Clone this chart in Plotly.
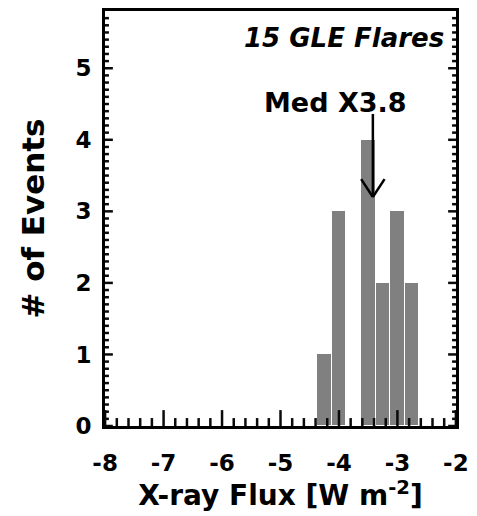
import numpy as np
import plotly.graph_objects as go

# Histogram of log10 peak X-ray flux for the GLE flares
bin_centers = [-4.25, -4.0, -3.5, -3.25, -3.0, -2.75]
counts = [1, 3, 4, 2, 3, 2]
bin_width = 0.25

median_flux = 3.8e-4          # X3.8 class
median_label = "Med X3.8"
title_text = "15 GLE Flares"

x_tickvals = [-8, -7, -6, -5, -4, -3, -2]
x_ticktext = ["-8", "-7", "-6", "-5", "-4", "-3", "-2"]
y_tickvals = [0, 1, 2, 3, 4, 5]
y_ticktext = ["0", "1", "2", "3", "4", "5"]
x_minor_step = 0.2
y_minor_step = 0.1
x_range = [-8.002, -1.998]
y_range = [0, 5.8]

W, H = 477, 516
M = dict(l=105, r=15, t=8, b=90)
FONT = "DejaVu Sans, Liberation Sans, Arial, sans-serif"
INK = "rgb(10,10,10)"

# pixel -> data unit conversions for tick lengths
px_x = (x_range[1] - x_range[0]) / (W - M["l"] - M["r"])
px_y = (y_range[1] - y_range[0]) / (H - M["t"] - M["b"])

fig = go.Figure()
fig.add_trace(go.Bar(
    x=bin_centers, y=counts, width=bin_width,
    marker=dict(color="#808080", line=dict(color="white", width=1)),
    showlegend=False,
))

# inward tick marks: bottom axis, and left + right axes
tx, ty = [], []
for v in np.round(np.arange(x_tickvals[0], x_tickvals[-1] + 1e-9, x_minor_step), 3):
    L = (16 if np.isclose(v, np.round(v)) else 8) * px_y
    tx += [v, v, None]
    ty += [y_range[0], y_range[0] + L, None]
for v in np.round(np.arange(y_range[0], y_range[1] - 1e-9, y_minor_step), 3):
    L = (8 if np.isclose(v, np.round(v)) else 4) * px_x
    tx += [x_range[0], x_range[0] + L, None, x_range[1], x_range[1] - L, None]
    ty += [v, v, None, v, v, None]
fig.add_trace(go.Scatter(x=tx, y=ty, mode="lines", line=dict(color=INK, width=2.5),
                         hoverinfo="skip", showlegend=False, cliponaxis=False))

# median arrow with an open V head
xm = np.log10(median_flux)
y_top, y_tip = 4.36, 3.2
head_dx, head_dy = 0.2, 0.25
arrow_line = dict(color="black", width=2.5)
fig.add_shape(type="line", x0=xm, x1=xm, y0=y_top, y1=y_tip, line=arrow_line)
fig.add_shape(type="line", x0=xm - head_dx, x1=xm, y0=y_tip + head_dy, y1=y_tip, line=arrow_line)
fig.add_shape(type="line", x0=xm + head_dx, x1=xm, y0=y_tip + head_dy, y1=y_tip, line=arrow_line)

fig.add_annotation(x=xm - 0.64, y=4.52, text="<b>%s</b>" % median_label, showarrow=False,
                   xanchor="center", yanchor="middle",
                   font=dict(family=FONT, size=27, color="black"))
fig.add_annotation(x=0.972, xref="paper", y=5.42, text="<b><i>%s</i></b>" % title_text,
                   showarrow=False, xanchor="right", yanchor="middle",
                   font=dict(family=FONT, size=26, color="black"))

fig.update_layout(
    width=W, height=H, margin=M,
    plot_bgcolor="white", paper_bgcolor="white",
    bargap=0,
    font=dict(family=FONT, size=23, color="black"),
    xaxis=dict(
        range=x_range, tickmode="array", tickvals=x_tickvals, ticktext=x_ticktext,
        tickfont=dict(family=FONT, size=23, weight="bold", color="black"),
        ticks="",
        showline=True, linecolor="black", linewidth=3, mirror=True,
        showgrid=False, zeroline=False,
        ticklabelstandoff=14,
        title=dict(text="<b>X-ray Flux [W m<sup>-2</sup>]</b>", standoff=4,
                   font=dict(family=FONT, size=28, color="black")),
    ),
    yaxis=dict(
        range=y_range, tickmode="array", tickvals=y_tickvals, ticktext=y_ticktext,
        tickfont=dict(family=FONT, size=23, weight="bold", color="black"),
        ticks="",
        showline=True, linecolor="black", linewidth=3, mirror=True,
        showgrid=False, zeroline=False,
        ticklabelstandoff=6,
        title=dict(text="<b># of Events</b>", standoff=22,
                   font=dict(family=FONT, size=31, color="black")),
    ),
)

fig.write_html("out.html")
